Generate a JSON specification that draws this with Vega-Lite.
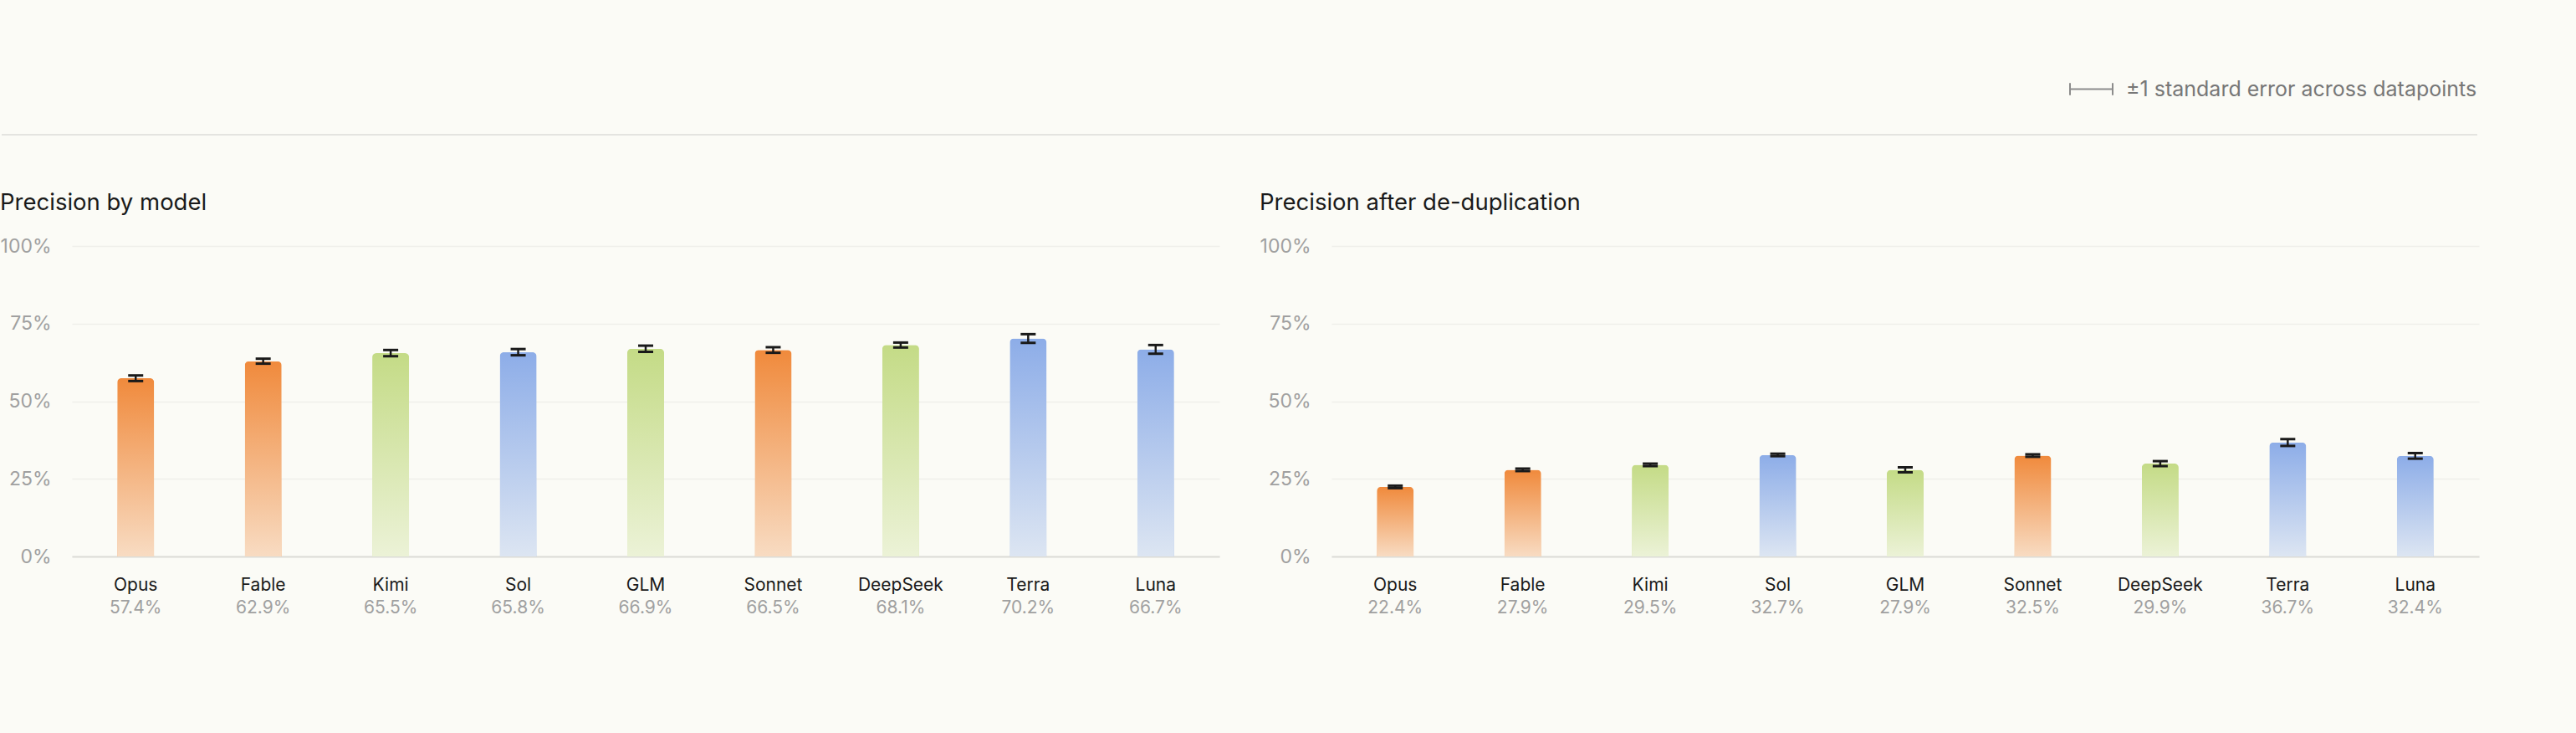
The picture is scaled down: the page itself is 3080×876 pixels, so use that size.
{
  "$schema": "https://vega.github.io/schema/vega-lite/v6.json",
  "background": "#fbfbf6",
  "padding": {"left": 0, "top": 80, "right": 120, "bottom": 139},
  "config": {
    "font": "Inter",
    "view": {"stroke": null},
    "title": {"font": "Inter", "fontSize": 27.5, "fontWeight": 400, "color": "#1a1a1a", "anchor": "start", "frame": "bounds", "offset": 27}
  },
  "datasets": {
    "byModel": [
      {"model": "Opus", "family": "orange", "v": 0.574, "se": 0.009},
      {"model": "Fable", "family": "orange", "v": 0.629, "se": 0.008},
      {"model": "Kimi", "family": "green", "v": 0.655, "se": 0.010},
      {"model": "Sol", "family": "blue", "v": 0.658, "se": 0.010},
      {"model": "GLM", "family": "green", "v": 0.669, "se": 0.010},
      {"model": "Sonnet", "family": "orange", "v": 0.665, "se": 0.009},
      {"model": "DeepSeek", "family": "green", "v": 0.681, "se": 0.008},
      {"model": "Terra", "family": "blue", "v": 0.702, "se": 0.014},
      {"model": "Luna", "family": "blue", "v": 0.667, "se": 0.014}
    ],
    "dedup": [
      {"model": "Opus", "family": "orange", "v": 0.224, "se": 0.004},
      {"model": "Fable", "family": "orange", "v": 0.279, "se": 0.004},
      {"model": "Kimi", "family": "green", "v": 0.295, "se": 0.004},
      {"model": "Sol", "family": "blue", "v": 0.327, "se": 0.004},
      {"model": "GLM", "family": "green", "v": 0.279, "se": 0.008},
      {"model": "Sonnet", "family": "orange", "v": 0.325, "se": 0.004},
      {"model": "DeepSeek", "family": "green", "v": 0.299, "se": 0.008},
      {"model": "Terra", "family": "blue", "v": 0.367, "se": 0.011},
      {"model": "Luna", "family": "blue", "v": 0.324, "se": 0.009}
    ]
  },
  "spacing": 66,
  "resolve": {"scale": {"stroke": "independent", "x": "independent"}, "legend": {"stroke": "independent"}},
  "vconcat": [
    {
      "width": 2876,
      "height": 81,
      "data": {"values": [{"key": "±1 standard error across datapoints"}]},
      "mark": {"type": "rule", "strokeWidth": 2, "opacity": 0.2},
      "encoding": {
        "x": {"datum": 0, "type": "quantitative", "scale": {"domain": [0, 1], "range": [-84, 2876]}, "axis": null},
        "x2": {"datum": 1},
        "y": {"datum": 0, "type": "quantitative", "scale": {"domain": [0, 1]}, "axis": null},
        "stroke": {
          "field": "key",
          "type": "nominal",
          "scale": {"range": ["#8c8c8c"]},
          "legend": {
            "title": null,
            "orient": "top-right",
            "offset": 0,
            "padding": 0,
            "symbolType": "M-1,-0.28L-1,0.28M-1,0L1,0M1,-0.28L1,0.28",
            "symbolSize": 2601,
            "symbolStrokeWidth": 2,
            "symbolOpacity": 1,
            "labelFont": "Inter",
            "labelFontSize": 25,
            "labelColor": "#777777",
            "labelOffset": 15,
            "labelLimit": 1000
          }
        }
      }
    },
    {
      "spacing": 48,
      "hconcat": [
        {
          "title": {"text": "Precision by model"},
          "width": 1372,
          "height": 371,
          "data": {"name": "byModel"},
          "encoding": {
            "x": {
              "field": "model",
              "type": "nominal",
              "sort": null,
              "scale": {"paddingInner": 0.711, "paddingOuter": 0.3555},
              "axis": {"title": null, "labelAngle": 0, "ticks": false, "tickSize": 0, "domainColor": "#dcdcd7", "domainWidth": 2, "labelFont": "Inter", "labelFontSize": 21, "labelColor": "#1a1a1a", "labelBaseline": "alphabetic", "labelPadding": 40, "grid": false}
            }
          },
          "layer": [
            {
              "mark": {"type": "bar", "cornerRadiusEnd": 5},
              "encoding": {
                "y": {
                  "field": "v",
                  "type": "quantitative",
                  "scale": {"domain": [0, 1]},
                  "axis": {"title": null, "values": [0, 0.25, 0.5, 0.75, 1], "format": ".0%", "domain": false, "ticks": false, "gridColor": "#efefea", "gridWidth": 1.5, "labelFont": "Inter", "labelFontSize": 23, "labelColor": "#a0a0a0", "labelPadding": 25}
                },
                "color": {"field": "family", "type": "nominal", "scale": {"domain": ["orange", "green", "blue"], "range": ["#f08a3c", "#c4db86", "#8dade8"]}, "legend": null}
              }
            },
            {
              "mark": {"type": "bar", "cornerRadiusEnd": 5, "fill": {"gradient": "linear", "x1": 0, "y1": 0, "x2": 0, "y2": 1, "stops": [{"offset": 0, "color": "rgba(251,251,246,0)"}, {"offset": 1, "color": "rgba(251,251,246,0.72)"}]}},
              "encoding": {"y": {"field": "v", "type": "quantitative"}}
            },
            {
              "mark": {"type": "errorbar", "color": "#1a1a1a", "rule": {"strokeWidth": 2.5, "color": "#1a1a1a"}, "ticks": {"thickness": 3, "size": 18, "color": "#1a1a1a", "opacity": 1}},
              "encoding": {"y": {"field": "v", "type": "quantitative"}, "yError": {"field": "se"}}
            },
            {
              "mark": {"type": "text", "dy": 68, "baseline": "alphabetic", "font": "Inter", "fontSize": 21, "color": "#a0a0a0"},
              "encoding": {"y": {"datum": 0}, "text": {"field": "v", "type": "quantitative", "format": ".1%"}}
            }
          ]
        },
        {
          "title": {"text": "Precision after de-duplication"},
          "width": 1372,
          "height": 371,
          "data": {"name": "dedup"},
          "encoding": {
            "x": {
              "field": "model",
              "type": "nominal",
              "sort": null,
              "scale": {"paddingInner": 0.711, "paddingOuter": 0.3555},
              "axis": {"title": null, "labelAngle": 0, "ticks": false, "tickSize": 0, "domainColor": "#dcdcd7", "domainWidth": 2, "labelFont": "Inter", "labelFontSize": 21, "labelColor": "#1a1a1a", "labelBaseline": "alphabetic", "labelPadding": 40, "grid": false}
            }
          },
          "layer": [
            {
              "mark": {"type": "bar", "cornerRadiusEnd": 5},
              "encoding": {
                "y": {
                  "field": "v",
                  "type": "quantitative",
                  "scale": {"domain": [0, 1]},
                  "axis": {"title": null, "values": [0, 0.25, 0.5, 0.75, 1], "format": ".0%", "domain": false, "ticks": false, "gridColor": "#efefea", "gridWidth": 1.5, "labelFont": "Inter", "labelFontSize": 23, "labelColor": "#a0a0a0", "labelPadding": 25}
                },
                "color": {"field": "family", "type": "nominal", "scale": {"domain": ["orange", "green", "blue"], "range": ["#f08a3c", "#c4db86", "#8dade8"]}, "legend": null}
              }
            },
            {
              "mark": {"type": "bar", "cornerRadiusEnd": 5, "fill": {"gradient": "linear", "x1": 0, "y1": 0, "x2": 0, "y2": 1, "stops": [{"offset": 0, "color": "rgba(251,251,246,0)"}, {"offset": 1, "color": "rgba(251,251,246,0.72)"}]}},
              "encoding": {"y": {"field": "v", "type": "quantitative"}}
            },
            {
              "mark": {"type": "errorbar", "color": "#1a1a1a", "rule": {"strokeWidth": 2.5, "color": "#1a1a1a"}, "ticks": {"thickness": 3, "size": 18, "color": "#1a1a1a", "opacity": 1}},
              "encoding": {"y": {"field": "v", "type": "quantitative"}, "yError": {"field": "se"}}
            },
            {
              "mark": {"type": "text", "dy": 68, "baseline": "alphabetic", "font": "Inter", "fontSize": 21, "color": "#a0a0a0"},
              "encoding": {"y": {"datum": 0}, "text": {"field": "v", "type": "quantitative", "format": ".1%"}}
            }
          ]
        }
      ]
    }
  ]
}
